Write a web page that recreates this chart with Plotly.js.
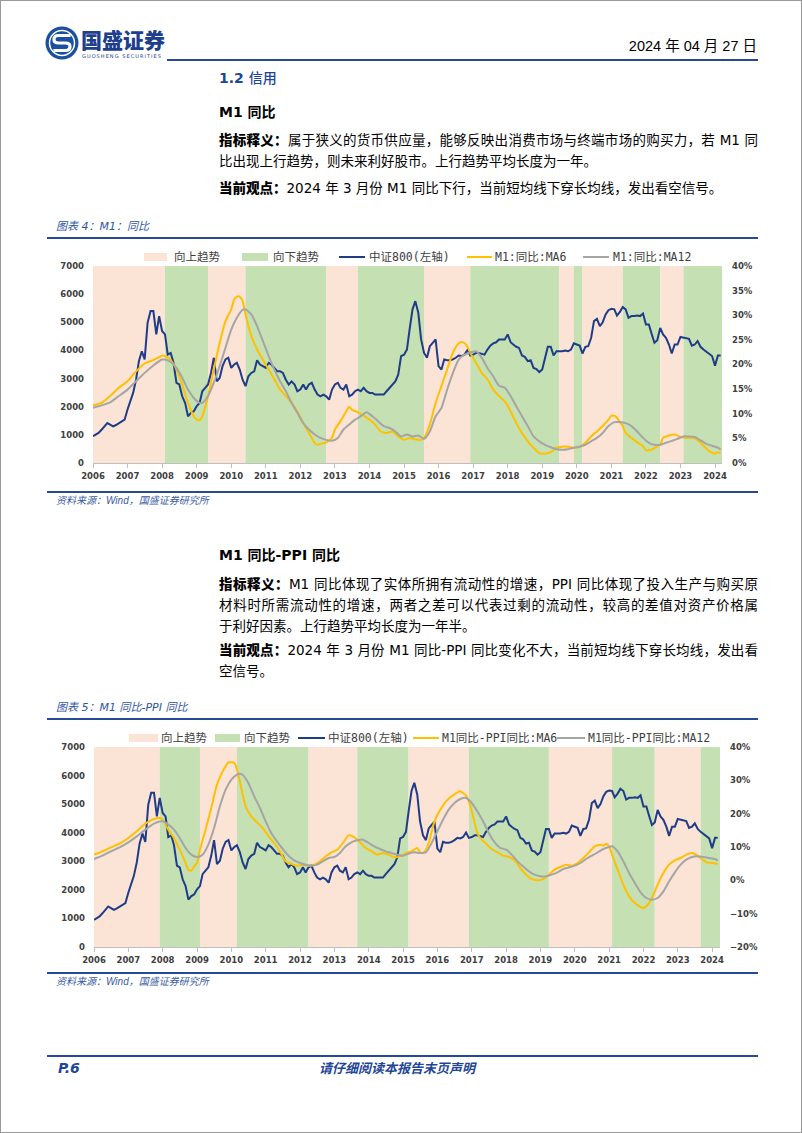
<!DOCTYPE html>
<html>
<head>
<meta charset="utf-8">
<script src="https://cdn.plot.ly/plotly-3.0.1.min.js"></script>
<style>
  html, body { margin:0; padding:0; background:#fff; }
  #page { position:relative; width:800px; height:1131px; border:1px solid #9a9a9a; overflow:hidden; background:#fff;
          font-family:"DejaVu Sans","Noto Sans CJK SC",sans-serif; color:#000; }
  .abs { position:absolute; white-space:nowrap; }
  .hline { position:absolute; height:2px; background:#264a96; }
  .h1 { font-size:14px; font-weight:bold; color:#1e4596; line-height:20px; font-family:"DejaVu Sans","Noto Sans CJK SC"; }
  .h2 { font-size:14px; font-weight:bold; line-height:20px; }
  .para { position:absolute; left:218px; width:539px; font-size:13.5px; line-height:21px; }
  .para div { white-space:nowrap; }
  .full { text-align:justify; text-align-last:justify; }
  .para b { font-family:"Noto Sans CJK SC"; font-weight:900; }
  .cap { font-size:11px; line-height:14px; font-style:italic; color:#2f55a4; font-family:"DejaVu Sans","Noto Sans CJK SC"; }
  .src { font-size:10px; line-height:14px; font-style:italic; color:#3a5ba5; font-family:"Liberation Sans","Noto Sans CJK SC"; }
  .leg { position:absolute; font-size:11.5px; line-height:14px; color:#404040; font-family:"DejaVu Sans Mono","Noto Sans CJK SC"; white-space:nowrap; }
  .sw { position:absolute; height:8px; }
  .ln { position:absolute; height:2px; }
  .chart { position:absolute; left:0; width:802px; }
</style>
</head>
<body>
<div id="page">
  <!-- header -->
  <svg class="abs" style="left:42px;top:23px" width="38" height="38" viewBox="0 0 38 38">
    <circle cx="19" cy="19" r="16.5" fill="#1b4f9f"/>
    <circle cx="19" cy="19" r="12.5" fill="none" stroke="#fff" stroke-width="1.5"/>
    <path d="M26 11.5 H15.5 Q11 11.5 11 15.5 Q11 19 15.5 19 H22.5 Q27 19 27 22.5 Q27 26.5 22.5 26.5 H12" fill="none" stroke="#fff" stroke-width="3.2" stroke-linecap="square"/>
  </svg>
  <div class="abs" style="left:80px;top:24px;font-family:'Noto Sans CJK SC';font-weight:900;font-size:21px;line-height:28px;color:#1d3f8e;letter-spacing:0px">国盛证券</div>
  <div class="abs" style="left:81px;top:52px;font-family:'DejaVu Sans';font-size:5px;line-height:6px;color:#1d3f8e;letter-spacing:1.05px">GUOSHENG SECURITIES</div>
  <div class="abs" style="right:44px;top:35px;font-family:'Liberation Sans Narrow','Liberation Sans','Noto Sans CJK SC';font-size:14.5px;line-height:20px">2024 年 04 月 27 日</div>
  <div class="hline" style="left:166px;width:591px;top:58px"></div>

  <!-- section 1 -->
  <div class="abs h1" style="left:218px;top:66px">1.2 <span style="font-family:'Noto Sans CJK SC';font-weight:500">信用</span></div>
  <div class="abs h2" style="left:218px;top:100px">M1 <span style="font-family:'Noto Sans CJK SC';font-weight:700">同比</span></div>
  <div class="para" style="top:128px">
    <div class="full"><b>指标释义：</b>属于狭义的货币供应量，能够反映出消费市场与终端市场的购买力，若 M1 同</div>
    <div>比出现上行趋势，则未来利好股市。上行趋势平均长度为一年。</div>
  </div>
  <div class="para" style="top:176px">
    <div><b>当前观点：</b>2024 年 3 月份 M1 同比下行，当前短均线下穿长均线，发出看空信号。</div>
  </div>
  <div class="abs cap" style="left:55px;top:219px">图表 4：M1：同比</div>
  <div class="hline" style="left:46px;width:711px;top:236px"></div>

  <!-- legend 1 -->
  <div class="sw" style="left:143px;top:252px;width:23px;background:#FBE3D5"></div>
  <div class="leg" style="left:173px;top:249px">向上趋势</div>
  <div class="sw" style="left:241px;top:252px;width:26px;background:#C5E0B3"></div>
  <div class="leg" style="left:272px;top:249px">向下趋势</div>
  <div class="ln" style="left:338px;top:255px;width:26px;background:#1F3C88"></div>
  <div class="leg" style="left:368px;top:249px">中证800(左轴)</div>
  <div class="ln" style="left:466px;top:255px;width:25px;background:#FFC000"></div>
  <div class="leg" style="left:494px;top:249px">M1:同比:MA6</div>
  <div class="ln" style="left:582px;top:255px;width:26px;background:#A5A5A5"></div>
  <div class="leg" style="left:612px;top:249px">M1:同比:MA12</div>

  <div id="chart1" class="chart" style="top:245px;height:245px"></div>
  <div class="hline" style="left:46px;width:711px;top:490px"></div>
  <div class="abs src" style="left:55px;top:493px">资料来源：Wind，国盛证券研究所</div>

  <!-- section 2 -->
  <div class="abs h2" style="left:218px;top:543px">M1 <span style="font-family:'Noto Sans CJK SC';font-weight:700">同比</span>-PPI <span style="font-family:'Noto Sans CJK SC';font-weight:700">同比</span></div>
  <div class="para" style="top:572px">
    <div class="full"><b>指标释义：</b>M1 同比体现了实体所拥有流动性的增速，PPI 同比体现了投入生产与购买原</div>
    <div class="full">材料时所需流动性的增速，两者之差可以代表过剩的流动性，较高的差值对资产价格属</div>
    <div>于利好因素。上行趋势平均长度为一年半。</div>
  </div>
  <div class="para" style="top:638px">
    <div class="full"><b>当前观点：</b>2024 年 3 月份 M1 同比-PPI 同比变化不大，当前短均线下穿长均线，发出看</div>
    <div>空信号。</div>
  </div>
  <div class="abs cap" style="left:55px;top:700px">图表 5：M1 同比-PPI 同比</div>
  <div class="hline" style="left:46px;width:711px;top:717px"></div>

  <!-- legend 2 -->
  <div class="sw" style="left:128px;top:733px;width:29px;background:#FBE3D5"></div>
  <div class="leg" style="left:160px;top:730px">向上趋势</div>
  <div class="sw" style="left:214px;top:733px;width:25px;background:#C5E0B3"></div>
  <div class="leg" style="left:243px;top:730px">向下趋势</div>
  <div class="ln" style="left:297px;top:736px;width:27px;background:#1F3C88"></div>
  <div class="leg" style="left:327px;top:730px">中证800(左轴)</div>
  <div class="ln" style="left:412px;top:736px;width:26px;background:#FFC000"></div>
  <div class="leg" style="left:441px;top:730px">M1同比-PPI同比:MA6</div>
  <div class="ln" style="left:556px;top:736px;width:28px;background:#A5A5A5"></div>
  <div class="leg" style="left:587px;top:730px">M1同比-PPI同比:MA12</div>

  <div id="chart2" class="chart" style="top:725px;height:245px"></div>
  <div class="hline" style="left:46px;width:711px;top:971px"></div>
  <div class="abs src" style="left:55px;top:974px">资料来源：Wind，国盛证券研究所</div>

  <!-- footer -->
  <div class="hline" style="left:46px;width:711px;top:1054px"></div>
  <div class="abs" style="left:57px;top:1058px;font-family:'DejaVu Sans';font-weight:bold;font-style:italic;font-size:14px;line-height:18px;color:#1e4596">P.6</div>
  <div class="abs" style="left:318px;top:1058px;font-family:'Noto Sans CJK SC';font-weight:700;font-style:italic;font-size:13px;line-height:18px;color:#1e4596">请仔细阅读本报告末页声明</div>
</div>

<script>
// ---------------- DATA ----------------
// CSI 800 monthly close (left axis), 2006-01 .. 2024-03
const csi800Start = [2006, 1];
const csi800 = [
  950,1010,1070,1180,1300,1420,1360,1300,1350,1420,1480,1540,
  1900,2250,2490,2960,3620,3970,3680,4980,5400,5400,4570,5220,
  4690,4570,3850,3910,3560,2850,2790,2370,2130,1660,1780,1840,
  2020,2130,2550,2670,2790,3200,3740,2900,3020,3440,3680,3740,
  3380,3500,3560,3320,2960,2730,3080,3200,3260,3650,3500,3440,
  3380,3560,3500,3380,3260,3260,3200,2960,2790,2900,2790,2550,
  2610,2790,2610,2790,2850,2610,2430,2370,2430,2370,2250,2610,
  2790,2850,2670,2610,2790,2370,2430,2550,2610,2550,2670,2550,
  2490,2490,2430,2430,2430,2430,2550,2670,2790,2900,3140,3800,
  3850,4030,4740,5460,5750,5340,4390,3910,3740,4150,4270,4390,
  3440,3320,3680,3650,3650,3680,3740,3820,3800,3850,4010,3820,
  3850,3910,3910,3890,3850,4030,4170,4250,4290,4390,4390,4390,
  4570,4290,4210,4130,4090,3820,3770,3620,3650,3380,3340,3230,
  3320,3800,4130,4130,3820,3970,3970,3970,4000,3970,4030,4250,
  4210,4170,3890,4130,4150,4450,5040,5120,4860,5000,5280,5430,
  5480,5460,5240,5370,5540,5460,5160,5220,5220,5240,5220,5310,
  4920,4920,4600,4270,4360,4800,4570,4450,4210,3890,4210,4210,
  4480,4450,4450,4410,4170,4210,4330,4130,4030,3950,3850,3800,
  3460,3820,3820
];

// Chart 1: M1 YoY MA6 (%)
const m1Ma6Dates = ['2006-01','2006-04','2006-07','2006-10','2007-01','2007-04','2007-07','2007-10','2008-01','2008-02','2008-04','2008-06','2008-08','2008-10','2008-12','2009-01','2009-02','2009-03','2009-05','2009-07','2009-09','2009-11','2010-01','2010-02','2010-03','2010-04','2010-05','2010-06','2010-08','2010-10','2010-12','2011-02','2011-04','2011-06','2011-08','2011-10','2011-12','2012-02','2012-04','2012-06','2012-07','2012-08','2012-10','2012-12','2013-01','2013-03','2013-05','2013-06','2013-07','2013-09','2013-11','2014-01','2014-03','2014-05','2014-07','2014-09','2014-11','2015-01','2015-03','2015-05','2015-07','2015-08','2015-10','2015-12','2016-02','2016-04','2016-06','2016-08','2016-09','2016-10','2016-11','2016-12','2017-02','2017-04','2017-06','2017-08','2017-10','2017-12','2018-02','2018-04','2018-06','2018-08','2018-10','2018-12','2019-02','2019-04','2019-06','2019-08','2019-10','2019-12','2020-02','2020-04','2020-06','2020-08','2020-10','2020-12','2021-01','2021-02','2021-03','2021-04','2021-05','2021-06','2021-08','2021-10','2021-12','2022-01','2022-03','2022-05','2022-06','2022-07','2022-09','2022-11','2023-01','2023-03','2023-05','2023-07','2023-09','2023-11','2024-01','2024-02','2024-03'];
const m1Ma6 = [11.7,12.2,13.6,15.3,16.6,18.6,20.2,20.9,21.8,21.7,20.9,19.0,15.9,12.2,9.5,8.8,8.7,9.5,13.6,19.0,24.4,28.8,31.2,33.2,33.8,33.8,32.9,30.2,25.8,23.1,21.0,19.0,17.0,14.9,13.6,12.2,10.5,8.1,6.1,4.1,3.7,3.9,4.2,5.1,6.8,8.5,10.5,11.4,10.8,10.3,9.6,8.8,7.8,6.4,6.1,6.4,5.4,4.7,5.1,4.8,4.7,5.1,7.8,12.2,15.6,19.0,22.4,24.3,24.5,24.4,23.6,22.4,20.3,18.3,17.0,14.9,13.6,12.5,10.5,8.1,6.1,4.4,3.1,2.0,1.9,2.2,3.1,3.3,3.3,3.1,3.3,4.1,5.4,6.4,7.5,8.8,9.6,9.6,9.2,8.3,7.5,6.1,5.1,4.2,3.4,2.6,2.7,3.4,3.7,5.1,5.6,5.8,5.3,5.1,5.1,4.7,3.5,2.4,1.9,2.2,2.0];

// Chart 1: M1 YoY MA12 (%)
const m1Ma12Dates = ['2006-01','2006-04','2006-07','2006-10','2007-01','2007-04','2007-07','2007-10','2008-01','2008-02','2008-04','2008-06','2008-08','2008-10','2008-12','2009-02','2009-03','2009-05','2009-07','2009-09','2009-11','2010-01','2010-03','2010-05','2010-06','2010-08','2010-10','2010-12','2011-02','2011-04','2011-06','2011-08','2011-10','2011-12','2012-02','2012-04','2012-06','2012-08','2012-10','2012-12','2013-02','2013-04','2013-06','2013-08','2013-10','2013-12','2014-02','2014-04','2014-06','2014-08','2014-10','2014-12','2015-02','2015-04','2015-06','2015-08','2015-10','2015-12','2016-02','2016-04','2016-06','2016-08','2016-10','2016-12','2017-02','2017-04','2017-06','2017-08','2017-10','2017-12','2018-02','2018-04','2018-06','2018-08','2018-10','2018-12','2019-02','2019-04','2019-06','2019-08','2019-10','2019-12','2020-02','2020-04','2020-06','2020-08','2020-10','2020-12','2021-02','2021-04','2021-06','2021-08','2021-10','2021-12','2022-02','2022-04','2022-06','2022-08','2022-10','2022-12','2023-02','2023-04','2023-06','2023-08','2023-10','2023-12','2024-02','2024-03'];
const m1Ma12 = [11.2,11.7,12.3,13.6,14.9,16.6,18.3,19.8,21.0,21.0,20.5,19.3,17.3,14.9,13.2,12.2,12.2,13.6,16.3,19.7,23.4,27.1,29.5,31.1,31.2,30.2,27.8,24.8,21.7,19.0,16.6,14.6,12.2,10.2,8.1,6.8,5.8,5.1,4.7,4.5,5.1,6.8,7.8,8.8,9.5,10.3,9.5,8.5,7.5,7.1,6.4,5.4,5.8,5.4,5.6,4.9,6.4,9.5,11.2,14.9,18.3,21.0,22.0,22.4,22.7,21.4,19.3,17.6,15.7,15.3,13.6,11.5,9.5,7.5,5.4,4.4,3.7,3.2,2.8,2.7,2.8,3.1,3.3,3.7,4.4,5.1,6.1,7.5,8.3,8.3,8.1,7.5,6.4,5.1,4.1,3.7,3.7,4.1,4.5,4.9,5.4,5.4,5.3,4.6,3.9,3.5,3.1,2.7];

// Chart 1 trend regions (boundaries; regions alternate starting with "up")
const trend1Bounds = ['2006-01-01','2008-02-01','2009-05-01','2010-06-01','2012-10-01','2013-09-01','2015-08-01','2016-12-01','2019-07-01','2019-12-01','2020-03-01','2021-05-01','2022-06-01','2023-02-01','2024-03-15'];
const trend1Types  = ['up','down','up','down','up','down','up','down','up','down','up','down','up','down'];

// Chart 2: M1 YoY - PPI YoY MA6 (%)
const gapMa6Dates = ['2006-01','2006-04','2006-07','2006-10','2007-01','2007-04','2007-07','2007-10','2007-12','2008-01','2008-03','2008-05','2008-07','2008-09','2008-10','2008-11','2008-12','2009-01','2009-02','2009-04','2009-06','2009-08','2009-10','2009-12','2010-01','2010-02','2010-03','2010-04','2010-05','2010-06','2010-08','2010-10','2010-12','2011-02','2011-04','2011-06','2011-08','2011-10','2011-12','2012-02','2012-04','2012-06','2012-08','2012-10','2012-12','2013-02','2013-04','2013-06','2013-08','2013-10','2013-12','2014-02','2014-04','2014-06','2014-08','2014-10','2014-12','2015-02','2015-04','2015-05','2015-06','2015-07','2015-08','2015-09','2015-10','2015-12','2016-02','2016-04','2016-06','2016-08','2016-09','2016-10','2016-11','2016-12','2017-01','2017-02','2017-03','2017-04','2017-06','2017-08','2017-10','2017-12','2018-02','2018-04','2018-06','2018-08','2018-10','2018-12','2019-02','2019-04','2019-06','2019-08','2019-10','2019-12','2020-02','2020-04','2020-06','2020-08','2020-10','2020-11','2020-12','2021-01','2021-02','2021-04','2021-06','2021-08','2021-10','2021-12','2022-01','2022-02','2022-04','2022-06','2022-08','2022-10','2022-12','2023-02','2023-04','2023-06','2023-07','2023-09','2023-11','2024-01','2024-03'];
const gapMa6 = [7.7,8.7,9.9,11.0,12.7,14.7,17.0,18.4,18.7,18.2,15.2,12.7,9.2,5.2,3.2,2.9,4.2,5.2,9.2,15.2,21.7,28.7,32.7,35.4,35.4,35.2,33.4,29.7,25.7,22.2,19.2,17.4,15.7,13.2,11.2,8.7,5.7,4.9,4.4,4.7,4.4,4.7,5.7,7.2,8.4,9.2,11.2,13.5,12.9,11.4,9.7,8.7,7.7,8.2,7.7,6.9,7.2,8.2,8.7,9.2,9.7,8.4,8.2,9.2,11.2,17.7,21.2,23.7,25.2,26.4,26.7,26.2,25.4,23.7,20.7,17.2,14.2,12.7,11.0,9.4,8.4,7.4,7.0,6.0,3.7,1.7,0.4,0.0,0.4,1.7,3.2,4.0,4.7,4.4,5.2,6.7,8.4,10.2,10.7,10.4,11.0,10.2,7.7,3.2,-1.3,-4.8,-6.8,-8.0,-8.3,-7.8,-5.3,-1.3,2.2,4.7,6.0,6.7,7.7,8.2,7.9,6.7,5.4,5.2,4.9];

// Chart 2: M1 YoY - PPI YoY MA12 (%)
const gapMa12Dates = ['2006-01','2006-04','2006-07','2006-10','2007-01','2007-04','2007-07','2007-10','2008-01','2008-03','2008-05','2008-07','2008-09','2008-11','2009-01','2009-03','2009-05','2009-07','2009-09','2009-11','2010-01','2010-03','2010-04','2010-05','2010-07','2010-09','2010-11','2011-01','2011-03','2011-05','2011-07','2011-09','2011-11','2012-01','2012-03','2012-05','2012-07','2012-09','2012-11','2013-01','2013-03','2013-05','2013-07','2013-09','2013-11','2014-01','2014-03','2014-05','2014-07','2014-09','2014-11','2015-01','2015-03','2015-05','2015-07','2015-09','2015-11','2016-01','2016-03','2016-05','2016-07','2016-09','2016-11','2017-01','2017-03','2017-05','2017-07','2017-09','2017-11','2018-01','2018-03','2018-05','2018-07','2018-09','2018-11','2019-01','2019-03','2019-05','2019-07','2019-09','2019-11','2020-01','2020-03','2020-05','2020-07','2020-09','2020-11','2021-01','2021-02','2021-04','2021-06','2021-08','2021-10','2021-12','2022-02','2022-04','2022-06','2022-08','2022-10','2022-12','2023-02','2023-04','2023-06','2023-08','2023-10','2023-12','2024-02','2024-03'];
const gapMa12 = [6.4,7.4,8.7,9.9,11.4,13.2,15.2,17.0,17.7,16.7,15.2,12.7,9.7,7.7,7.0,7.7,10.7,15.7,22.2,27.2,30.2,31.7,32.0,31.7,29.2,25.2,21.7,17.7,14.2,11.7,9.4,7.4,6.0,5.2,4.7,4.4,4.7,5.7,6.7,7.0,8.2,10.2,11.4,12.0,12.2,11.2,10.2,9.4,8.7,8.2,7.7,7.4,8.0,8.4,8.2,8.4,11.2,14.7,18.2,21.2,23.2,24.4,24.7,23.2,20.7,17.7,14.2,11.4,9.7,9.2,7.7,5.7,4.2,2.7,1.7,1.2,1.2,1.7,2.4,3.4,3.9,4.4,5.2,6.4,7.4,8.4,9.4,10.0,10.2,8.7,5.7,2.2,-0.8,-3.6,-5.3,-5.8,-5.3,-3.3,-0.3,2.4,4.7,6.2,7.0,7.2,7.0,6.7,6.4,6.0];

// Chart 2 trend regions
const trend2Bounds = ['2006-01-01','2007-12-01','2009-02-01','2010-03-01','2012-04-01','2013-09-01','2015-03-01','2016-12-01','2019-04-01','2021-02-01','2022-05-01','2023-09-01','2024-03-25'];
const trend2Types  = ['up','down','up','down','up','down','up','down','up','down','up','down'];

// ---------------- RENDER ----------------
const COLORS = { up:'#FBE3D5', down:'#C5E0B3', csi:'#1F3C88', ma6:'#FFC000', ma12:'#A5A5A5' };

function monthLabels(start, n) {
  const out = [];
  let y = start[0], m = start[1];
  for (let i = 0; i < n; i++) {
    out.push(y + '-' + String(m).padStart(2, '0'));
    m++; if (m > 12) { m = 1; y++; }
  }
  return out;
}
const csiDates = monthLabels(csi800Start, csi800.length);

function regionShapes(bounds, types) {
  return types.map((t, i) => ({
    type:'rect', xref:'x', yref:'paper', x0:bounds[i], x1:bounds[i+1], y0:0, y1:1,
    fillcolor:COLORS[t], line:{width:0}, layer:'below'
  }));
}

const tickFont = { family:'Verdana, "DejaVu Sans", sans-serif', size:8.5, color:'#404040', weight:'bold' };

function makeChart(id, o) {
  const traces = [
    { x:csiDates, y:csi800, type:'scatter', mode:'lines', yaxis:'y', line:{color:COLORS.csi, width:2}, name:'中证800(左轴)' },
    { x:o.ma6Dates, y:o.ma6, type:'scatter', mode:'lines', yaxis:'y2', line:{color:COLORS.ma6, width:2, shape:'spline', smoothing:0.6}, name:o.ma6Name },
    { x:o.ma12Dates, y:o.ma12, type:'scatter', mode:'lines', yaxis:'y2', line:{color:COLORS.ma12, width:2, shape:'spline', smoothing:0.6}, name:o.ma12Name }
  ];
  const layout = {
    width:802, height:245,
    margin:o.margin,
    paper_bgcolor:'rgba(0,0,0,0)', plot_bgcolor:'rgba(0,0,0,0)',
    showlegend:false,
    xaxis:{ type:'date', range:[o.bounds[0], o.bounds[o.bounds.length-1]], tick0:'2006-01-01', dtick:'M12', tickformat:'%Y',
            showgrid:false, zeroline:false, showline:true, linecolor:'#bfbfbf', linewidth:1,
            ticks:'outside', ticklen:4, tickcolor:'#bfbfbf', tickfont:tickFont, ticklabelstandoff:1 },
    yaxis:{ range:[0,7000], dtick:1000, showgrid:false, zeroline:false, showline:false, ticks:'', tickfont:tickFont, ticklabelstandoff:8 },
    yaxis2:{ overlaying:'y', side:'right', range:o.rightRange, dtick:o.rightDtick, ticksuffix:'%', showgrid:false, zeroline:false,
             showline:false, ticks:'', tickfont:tickFont, ticklabelstandoff:9 },
    shapes:regionShapes(o.bounds, o.types)
  };
  Plotly.newPlot(id, traces, layout, { staticPlot:true, displayModeBar:false });
}

makeChart('chart1', {
  ma6Dates:m1Ma6Dates, ma6:m1Ma6, ma12Dates:m1Ma12Dates, ma12:m1Ma12,
  ma6Name:'M1:同比:MA6', ma12Name:'M1:同比:MA12',
  bounds:trend1Bounds, types:trend1Types,
  margin:{ l:92, r:81, t:20, b:28 },
  rightRange:[0,40], rightDtick:5
});
makeChart('chart2', {
  ma6Dates:gapMa6Dates, ma6:gapMa6, ma12Dates:gapMa12Dates, ma12:gapMa12,
  ma6Name:'M1同比-PPI同比:MA6', ma12Name:'M1同比-PPI同比:MA12',
  bounds:trend2Bounds, types:trend2Types,
  margin:{ l:93, r:83, t:21, b:24 },
  rightRange:[-20,40], rightDtick:10
});
</script>
</body>
</html>
